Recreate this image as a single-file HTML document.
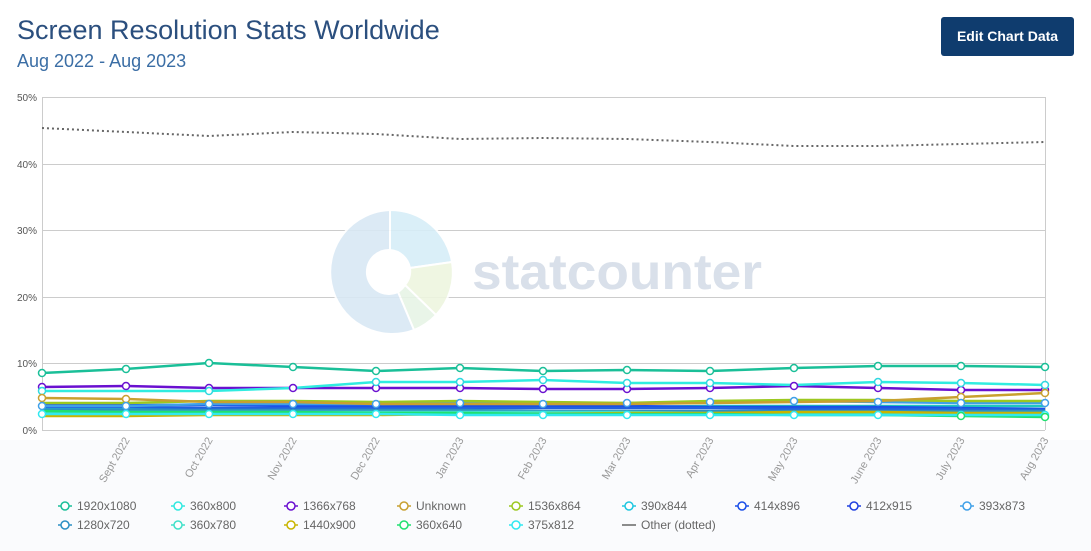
<!DOCTYPE html>
<html><head><meta charset="utf-8"><style>
body{margin:0;width:1091px;height:551px;background:#fff;font-family:"Liberation Sans",sans-serif;overflow:hidden;position:relative}
.t{position:absolute;left:17px;top:15px;font-size:27px;color:#2b4f7e;font-weight:normal}
.s{position:absolute;left:17px;top:51px;font-size:18px;color:#3b6ea5}
.b{position:absolute;left:941px;top:17px;width:133px;height:39px;background:#0f3c6e;border-radius:3px;color:#fff;font-weight:bold;font-size:14px;line-height:39px;text-align:center}
</style></head><body>
<div class="t">Screen Resolution Stats Worldwide</div>
<div class="s">Aug 2022 - Aug 2023</div>
<div class="b">Edit Chart Data</div>
<svg width="1091" height="551" style="position:absolute;left:0;top:0">
<rect x="0" y="440" width="1091" height="111" fill="#fafbfd"/>
<g stroke="#ccc" stroke-width="1">
<line x1="42" y1="97.5" x2="1045" y2="97.5"/><line x1="42" y1="164.5" x2="1045" y2="164.5"/><line x1="42" y1="230.5" x2="1045" y2="230.5"/><line x1="42" y1="297.5" x2="1045" y2="297.5"/><line x1="42" y1="363.5" x2="1045" y2="363.5"/><line x1="42" y1="430.5" x2="1045" y2="430.5"/>
<line x1="42.5" y1="97" x2="42.5" y2="430"/><line x1="1045.5" y1="97" x2="1045.5" y2="430"/>
</g>
<g font-size="10" fill="#555" text-anchor="end">
<text x="37" y="101">50%</text><text x="37" y="168">40%</text><text x="37" y="234">30%</text><text x="37" y="301">20%</text><text x="37" y="367">10%</text><text x="37" y="434">0%</text>
</g>
<g opacity="0.9" stroke="#fff" stroke-width="2">
<path d="M390,210 A62,62 0 0 1 452,262 L410,268 A22,22 0 0 0 390,250Z" fill="#d6eef8"/>
<path d="M452,262 A62,62 0 0 1 436,315 L405,285 A22,22 0 0 0 410,268Z" fill="#eef6df"/>
<path d="M436,315 A62,62 0 0 1 414,330 L398,292 A22,22 0 0 0 405,285Z" fill="#e7f4e6"/>
<path d="M414,330 A62,62 0 1 1 390,210 L390,250 A22,22 0 1 0 398,292Z" fill="#d9e8f5"/>
</g>
<text x="472" y="289" font-size="50" font-weight="bold" fill="#d9e0ea" textLength="290" lengthAdjust="spacingAndGlyphs">statcounter</text>
<polyline fill="none" stroke="#666" stroke-width="2" stroke-dasharray="2,3" points="42,128 126,132 209,136 293,132 376,134 460,139 543,138 627,139 710,142 794,146 878,146 961,144 1045,142"/>
<g fill="none" stroke-width="2.5">
<polyline stroke="#1ec6c0" points="42,408 126,409 209,409 293,409 376,408 460,407 543,407 627,407 710,406 794,406 878,406 961,406 1045,406"/>
<polyline stroke="#1a4ee8" points="42,404 126,405 209,405 293,406 376,406 460,406 543,406 627,406 710,407 794,407 878,407 961,408 1045,409"/>
<polyline stroke="#2060e0" points="42,407 126,407 209,408 293,408 376,408 460,408 543,408 627,408 710,408 794,409 878,409 961,409 1045,410"/>
<polyline stroke="#3fa0e8" points="42,406 126,406 209,404 293,404 376,404 460,403 543,404 627,403 710,402 794,401 878,402 961,403 1045,403"/>
<polyline stroke="#2b8fc4" points="42,410 126,410 209,410 293,410 376,410 460,410 543,411 627,411 710,411 794,411 878,411 961,411 1045,411"/>
<polyline stroke="#40e0c8" points="42,412 126,412 209,412 293,412 376,412 460,412 543,412 627,412 710,413 794,413 878,413 961,413 1045,413"/>
<polyline stroke="#c8b400" points="42,416 126,416 209,415 293,415 376,415 460,414 543,414 627,413 710,413 794,412 878,412 961,413 1045,413"/>
<polyline stroke="#20e070" points="42,411 126,412 209,412 293,412 376,413 460,413 543,414 627,414 710,414 794,415 878,415 961,416 1045,417"/>
<polyline stroke="#30e8f0" points="42,414 126,414 209,414 293,414 376,414 460,415 543,415 627,415 710,415 794,415 878,415 961,415 1045,415"/>
<polyline stroke="#9cc820" points="42,403 126,403 209,401 293,401 376,402 460,401 543,402 627,403 710,401 794,400 878,400 961,401 1045,401"/>
<polyline stroke="#c8a030" points="42,398 126,399 209,402 293,402 376,404 460,404 543,404 627,404 710,403 794,402 878,401 961,397 1045,393"/>
<polyline stroke="#6a10d0" points="42,387 126,386 209,388 293,388 376,388 460,388 543,389 627,389 710,388 794,386 878,388 961,390 1045,390"/>
<polyline stroke="#30ece0" points="42,391 126,391 209,391 293,388 376,382 460,382 543,380 627,383 710,383 794,385 878,382 961,383 1045,385"/>
<polyline stroke="#1abf98" points="42,373 126,369 209,363 293,367 376,371 460,368 543,371 627,370 710,371 794,368 878,366 961,366 1045,367"/>
</g>
<g fill="#fff" stroke-width="1.5">
<g stroke="#1abf98"><circle cx="42" cy="373" r="3.5"/><circle cx="126" cy="369" r="3.5"/><circle cx="209" cy="363" r="3.5"/><circle cx="293" cy="367" r="3.5"/><circle cx="376" cy="371" r="3.5"/><circle cx="460" cy="368" r="3.5"/><circle cx="543" cy="371" r="3.5"/><circle cx="627" cy="370" r="3.5"/><circle cx="710" cy="371" r="3.5"/><circle cx="794" cy="368" r="3.5"/><circle cx="878" cy="366" r="3.5"/><circle cx="961" cy="366" r="3.5"/><circle cx="1045" cy="367" r="3.5"/></g>
<g stroke="#6a10d0"><circle cx="42" cy="387" r="3.5"/><circle cx="126" cy="386" r="3.5"/><circle cx="209" cy="388" r="3.5"/><circle cx="293" cy="388" r="3.5"/><circle cx="376" cy="388" r="3.5"/><circle cx="460" cy="388" r="3.5"/><circle cx="543" cy="389" r="3.5"/><circle cx="627" cy="389" r="3.5"/><circle cx="710" cy="388" r="3.5"/><circle cx="794" cy="386" r="3.5"/><circle cx="878" cy="388" r="3.5"/><circle cx="961" cy="390" r="3.5"/><circle cx="1045" cy="390" r="3.5"/></g>
<g stroke="#30d8e0"><circle cx="42" cy="391" r="3.5"/><circle cx="209" cy="391" r="3.5"/><circle cx="376" cy="382" r="3.5"/><circle cx="460" cy="382" r="3.5"/><circle cx="543" cy="380" r="3.5"/><circle cx="627" cy="383" r="3.5"/><circle cx="710" cy="383" r="3.5"/><circle cx="878" cy="382" r="3.5"/><circle cx="961" cy="383" r="3.5"/><circle cx="1045" cy="385" r="3.5"/></g>
<g stroke="#c8a030"><circle cx="42" cy="398" r="3.5"/><circle cx="126" cy="399" r="3.5"/><circle cx="961" cy="397" r="3.5"/><circle cx="1045" cy="393" r="3.5"/></g>
<g stroke="#3fa0e8"><circle cx="42" cy="406" r="3.5"/><circle cx="126" cy="406" r="3.5"/><circle cx="209" cy="404" r="3.5"/><circle cx="293" cy="404" r="3.5"/><circle cx="376" cy="404" r="3.5"/><circle cx="460" cy="403" r="3.5"/><circle cx="543" cy="404" r="3.5"/><circle cx="627" cy="403" r="3.5"/><circle cx="710" cy="402" r="3.5"/><circle cx="794" cy="401" r="3.5"/><circle cx="878" cy="402" r="3.5"/><circle cx="961" cy="403" r="3.5"/><circle cx="1045" cy="403" r="3.5"/></g>
<g stroke="#30e8f0"><circle cx="42" cy="414" r="3.5"/><circle cx="126" cy="414" r="3.5"/><circle cx="209" cy="414" r="3.5"/><circle cx="293" cy="414" r="3.5"/><circle cx="376" cy="414" r="3.5"/><circle cx="460" cy="415" r="3.5"/><circle cx="543" cy="415" r="3.5"/><circle cx="627" cy="415" r="3.5"/><circle cx="710" cy="415" r="3.5"/><circle cx="794" cy="415" r="3.5"/><circle cx="878" cy="415" r="3.5"/><circle cx="961" cy="415" r="3.5"/><circle cx="1045" cy="415" r="3.5"/></g>
<g stroke="#20e070"><circle cx="1045" cy="417" r="3.5"/><circle cx="961" cy="416" r="3.5"/></g>
</g>
<g font-size="11" fill="#999" text-anchor="end">
<text transform="translate(130,440) rotate(-60)">Sept 2022</text>
<text transform="translate(213,440) rotate(-60)">Oct 2022</text>
<text transform="translate(297,440) rotate(-60)">Nov 2022</text>
<text transform="translate(380,440) rotate(-60)">Dec 2022</text>
<text transform="translate(464,440) rotate(-60)">Jan 2023</text>
<text transform="translate(547,440) rotate(-60)">Feb 2023</text>
<text transform="translate(631,440) rotate(-60)">Mar 2023</text>
<text transform="translate(714,440) rotate(-60)">Apr 2023</text>
<text transform="translate(798,440) rotate(-60)">May 2023</text>
<text transform="translate(882,440) rotate(-60)">June 2023</text>
<text transform="translate(965,440) rotate(-60)">July 2023</text>
<text transform="translate(1049,440) rotate(-60)">Aug 2023</text>
</g>
<g font-size="12" fill="#666" stroke-width="1.5">
<g transform="translate(58,506)"><line x1="0" x2="14" stroke="#1abf98"/><circle cx="7" r="4" fill="#fff" stroke="#1abf98"/><text x="19" y="4">1920x1080</text></g>
<g transform="translate(171,506)"><line x1="0" x2="14" stroke="#30e8e0"/><circle cx="7" r="4" fill="#fff" stroke="#30e8e0"/><text x="19" y="4">360x800</text></g>
<g transform="translate(284,506)"><line x1="0" x2="14" stroke="#6a10d0"/><circle cx="7" r="4" fill="#fff" stroke="#6a10d0"/><text x="19" y="4">1366x768</text></g>
<g transform="translate(397,506)"><line x1="0" x2="14" stroke="#c8a030"/><circle cx="7" r="4" fill="#fff" stroke="#c8a030"/><text x="19" y="4">Unknown</text></g>
<g transform="translate(509,506)"><line x1="0" x2="14" stroke="#9cc820"/><circle cx="7" r="4" fill="#fff" stroke="#9cc820"/><text x="19" y="4">1536x864</text></g>
<g transform="translate(622,506)"><line x1="0" x2="14" stroke="#1ec6e0"/><circle cx="7" r="4" fill="#fff" stroke="#1ec6e0"/><text x="19" y="4">390x844</text></g>
<g transform="translate(735,506)"><line x1="0" x2="14" stroke="#1a4ee8"/><circle cx="7" r="4" fill="#fff" stroke="#1a4ee8"/><text x="19" y="4">414x896</text></g>
<g transform="translate(847,506)"><line x1="0" x2="14" stroke="#2040e0"/><circle cx="7" r="4" fill="#fff" stroke="#2040e0"/><text x="19" y="4">412x915</text></g>
<g transform="translate(960,506)"><line x1="0" x2="14" stroke="#3fa0e8"/><circle cx="7" r="4" fill="#fff" stroke="#3fa0e8"/><text x="19" y="4">393x873</text></g>
<g transform="translate(58,525)"><line x1="0" x2="14" stroke="#2b8fc4"/><circle cx="7" r="4" fill="#fff" stroke="#2b8fc4"/><text x="19" y="4">1280x720</text></g>
<g transform="translate(171,525)"><line x1="0" x2="14" stroke="#40e0c8"/><circle cx="7" r="4" fill="#fff" stroke="#40e0c8"/><text x="19" y="4">360x780</text></g>
<g transform="translate(284,525)"><line x1="0" x2="14" stroke="#c8b400"/><circle cx="7" r="4" fill="#fff" stroke="#c8b400"/><text x="19" y="4">1440x900</text></g>
<g transform="translate(397,525)"><line x1="0" x2="14" stroke="#20e070"/><circle cx="7" r="4" fill="#fff" stroke="#20e070"/><text x="19" y="4">360x640</text></g>
<g transform="translate(509,525)"><line x1="0" x2="14" stroke="#30e8f0"/><circle cx="7" r="4" fill="#fff" stroke="#30e8f0"/><text x="19" y="4">375x812</text></g>
<g transform="translate(622,525)"><line x1="0" x2="14" stroke="#666"/><text x="19" y="4">Other (dotted)</text></g>
</g>
</svg>
</body></html>
